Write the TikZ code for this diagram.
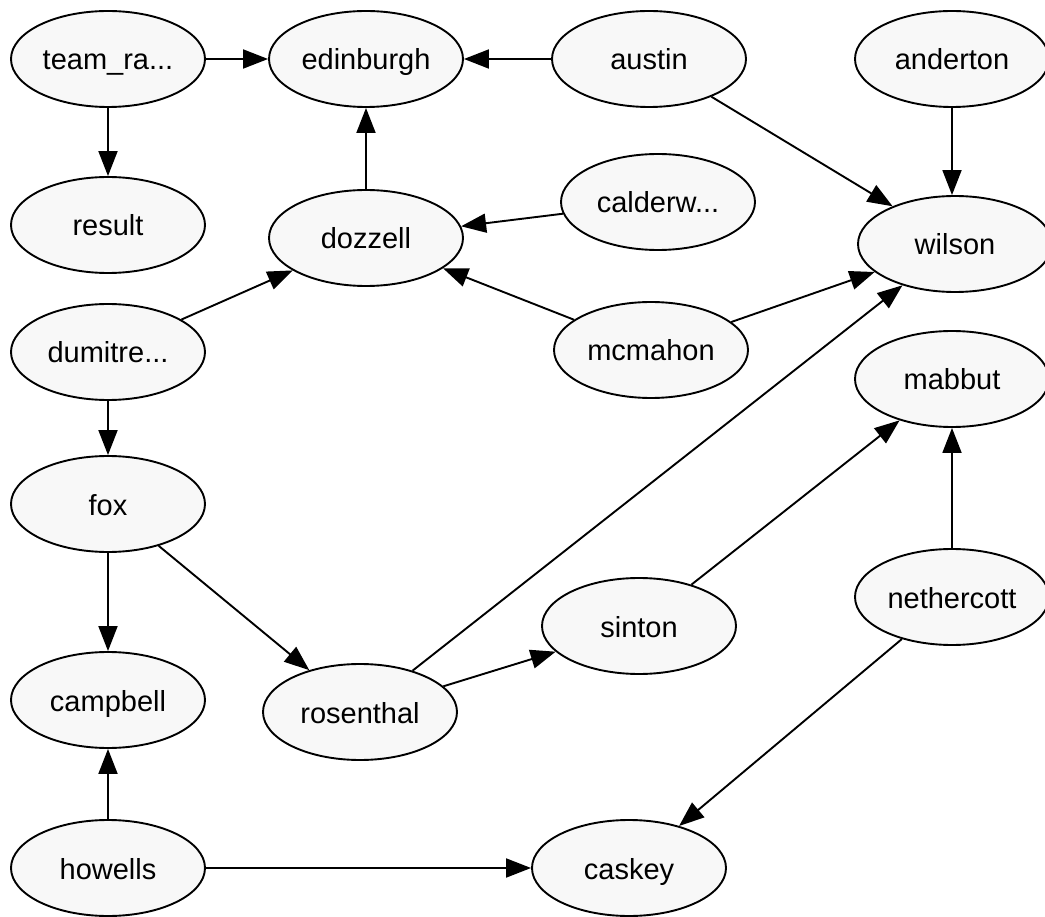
\documentclass[tikz,border=0pt]{standalone}
\usepackage{fontspec}
\setmainfont{Liberation Sans}
\usetikzlibrary{arrows.meta,shapes.geometric}
\definecolor{nodefill}{HTML}{F8F8F8}
\tikzset{
  player/.style={ellipse, draw=black, line width=1.9pt, fill=nodefill,
    minimum width=194pt, minimum height=96pt, inner sep=0pt,
    text height=24pt, text depth=2pt,
    font=\fontsize{29}{34}\selectfont},
  link/.style={line width=1.9pt, -{Triangle[length=25pt,width=19pt]}}
}
\begin{document}
\begin{tikzpicture}[x=1pt,y=-1pt]
\useasboundingbox (0,0) rectangle (1045,917);
% nodes
\node[player] (team)   at (108,59)  {team\_ra...};
\node[player] (edin)   at (366,59)  {edinburgh};
\node[player] (austin) at (649,59)  {austin};
\node[player] (ander)  at (952,59)  {anderton};
\node[player] (result) at (108,225) {result};
\node[player] (dozz)   at (366,238) {dozzell};
\node[player] (cald)   at (658,202) {calderw...};
\node[player] (wilson) at (955,244) {wilson};
\node[player] (dumi)   at (108,352) {dumitre...};
\node[player] (mcm)    at (651,350) {mcmahon};
\node[player] (mabbut) at (952,379) {mabbut};
\node[player] (fox)    at (108,504) {fox};
\node[player] (neth)   at (952,597) {nethercott};
\node[player] (sinton) at (639,626) {sinton};
\node[player] (camp)   at (108,700) {campbell};
\node[player] (rosen)  at (360,712) {rosenthal};
\node[player] (howells) at (108,868) {howells};
\node[player] (caskey) at (629,868) {caskey};
% edges
\draw[link] (team) -- (edin);
\draw[link] (team) -- (result);
\draw[link] (austin) -- (edin);
\draw[link] (austin) -- (wilson);
\draw[link] (ander.south) -- (ander.south |- wilson.north);
\draw[link] (dozz) -- (edin);
\draw[link] (cald) -- (dozz);
\draw[link] (mcm) -- (dozz);
\draw[link] (mcm) -- (wilson);
\draw[link] (dumi) -- (dozz);
\draw[link] (dumi) -- (fox);
\draw[link] (fox) -- (camp);
\draw[link] (fox) -- (rosen);
\draw[link] (rosen) -- (wilson);
\draw[link] (rosen) -- (sinton);
\draw[link] (sinton) -- (mabbut);
\draw[link] (neth) -- (mabbut);
\draw[link] (neth) -- (caskey);
\draw[link] (howells) -- (camp);
\draw[link] (howells) -- (caskey);
\end{tikzpicture}
\end{document}
